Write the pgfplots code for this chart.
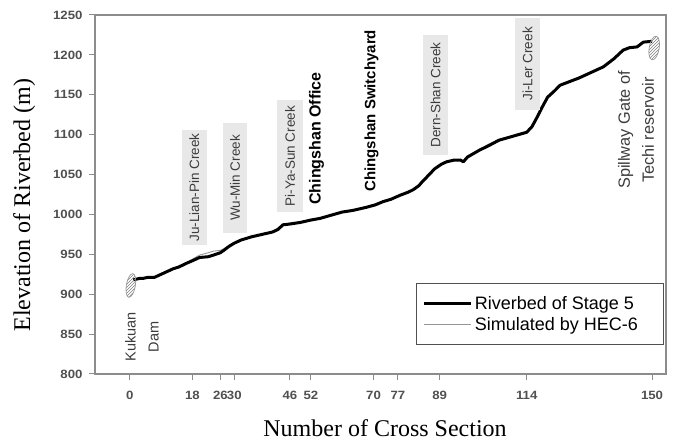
\documentclass[border=0pt]{standalone}
\usepackage{pgfplots}
\pgfplotsset{compat=1.18}
\usepackage{fontspec}
\setmainfont{Liberation Sans}
\newfontfamily\serifl{Liberation Serif}
\newfontfamily\ticksf[FakeStretch=1.1]{Liberation Sans}
\usetikzlibrary{patterns}
\definecolor{axgray}{RGB}{140,140,140}
\definecolor{tickgray}{RGB}{80,80,80}
\definecolor{boxgray}{RGB}{232,232,232}
\definecolor{txtgray}{RGB}{60,60,60}
\definecolor{simgray}{RGB}{150,150,150}

\pgfplotstableread{
n v
1 918
3 920
4 920
5 921
7 921
8 923
9.5 926
11 929
12.5 932
14 934
16.4 939
18 942
20 946
22.5 947
24 949
26 952
27 955
28.5 960
30 964
32 968
33.5 970
35 972
37 974
39 976
41 978
42.5 981
44 987
46 988
49 990
52 993
54.6 995
57 998
61 1003
64 1005
68 1009
70.5 1012
72.7 1016
75 1019
77.6 1024
80 1028
81.4 1031
83 1036
84 1041
86 1050
87.5 1057
89.5 1063
91 1066
93 1068
95 1068
95.8 1066
97 1072
99 1077
100.6 1081
103 1086
106 1093
110 1098
114 1103
115.5 1110
117 1122
118.5 1135
120 1147
122 1155
123.6 1162
126 1166
129 1171
132 1177
136 1185
139 1195
141.7 1206
143.5 1209
145.7 1210
147.5 1216
150 1217
}\riverbed

\pgfplotstableread{
n v
1 918
3 920
5 921
7 922
8 923
9.5 926
11 929
12.5 932
14 935
16.4 940
18 944
20 949
22.5 952
24 954
26 955
27 957
28.5 961
30 964
32 968
33.5 970
35 972
37 974
39 976
41 979
42.5 983
44 988
46 989
49 991
52 992
54.6 995
57 998
61 1003
64 1005
68 1010
70.5 1013
72.7 1016
75 1019
77.6 1024
80 1028
81.4 1031
83 1037
84 1042
86 1051
87.5 1057
89.5 1063
91 1066
93 1068
95 1069
95.8 1067
97 1073
99 1078
100.6 1082
103 1088
106 1094
110 1099
114 1104
115.5 1111
117 1122
118.5 1135
120 1147
122 1156
123.6 1162
126 1167
129 1172
132 1177
136 1186
139 1196
141.7 1206
143.5 1209
145.7 1211
147.5 1216
150 1217
}\simulated

\begin{document}
\begin{tikzpicture}
\begin{axis}[
  name=ax,
  scale only axis,
  width=571pt, height=359pt,
  xmin=-10, xmax=154,
  ymin=800, ymax=1250,
  axis line style={axgray, line width=1.1pt},
  every tick/.style={axgray, line width=1pt},
  tick align=outside,
  xtick pos=bottom, ytick pos=left,
  major tick length=6pt,
  xtick={0,18,26,30,46,52,70,77,89,114,150},
  ytick={800,850,...,1250},
  /pgf/number format/assume math mode=true,
  /pgf/number format/1000 sep={},
  tick label style={font=\ticksf\bfseries\fontsize{12}{14}\selectfont, text=tickgray},
  xticklabel style={yshift=-8pt},
  yticklabel style={xshift=-3pt},
  xlabel={Number of Cross Section},
  ylabel={Elevation of Riverbed (m)},
  every axis x label/.style={at={(axis description cs:0.508,-0.152)}, anchor=center, font=\serifl\fontsize{24}{27}\selectfont},
  every axis y label/.style={at={(axis description cs:-0.124,0.47)}, anchor=center, rotate=90, font=\serifl\fontsize{24}{27}\selectfont},
  reverse legend,
  legend style={
    at={(axis description cs:0.997,0.081)}, anchor=south east,
    draw=tickgray, line width=0.8pt,
    font=\fontsize{18}{20}\selectfont,
    inner xsep=6pt, inner ysep=11pt,
    row sep=2pt,
    cells={anchor=west},
  },
  legend image code/.code={\draw[#1] (0pt,0pt) -- (47pt,0pt);},
]
\addplot[simgray, line width=0.9pt] table[x=n, y=v] {\simulated};
\addlegendentry{Simulated by HEC-6}
\addplot[black, line width=3pt, line join=round] table[x=n, y=v] {\riverbed};
\addlegendentry{Riverbed of Stage 5\hspace*{22pt}}

\draw[simgray, line width=0.7pt, pattern=north east lines, pattern color=gray, rotate around={-10:(axis cs:0.3,911)}] (axis cs:0.3,911) ellipse [x radius=4.5pt, y radius=12pt];
\draw[simgray, line width=0.7pt, pattern=north east lines, pattern color=gray, rotate around={-10:(axis cs:150.6,1208.6)}] (axis cs:150.6,1208.6) ellipse [x radius=5pt, y radius=12pt];

\tikzset{creek/.style={rotate=90, fill=boxgray, text=txtgray, font=\fontsize{13.5}{15}\selectfont, inner sep=0pt, anchor=center}}
\node[creek, minimum width=115pt, minimum height=25pt] at (axis cs:18.5,1034) {Ju-Lian-Pin Creek};
\node[creek, minimum width=110pt, minimum height=24pt] at (axis cs:30.2,1045.7) {Wu-Min Creek};
\node[creek, minimum width=112pt, minimum height=26pt] at (axis cs:46,1073) {Pi-Ya-Sun Creek};
\node[creek, minimum width=120pt, minimum height=25pt] at (axis cs:87.8,1149.7) {Dern-Shan Creek};
\node[creek, minimum width=92pt, minimum height=25pt] at (axis cs:114.2,1188.6) {Ji-Ler Creek};

\node[rotate=90, font=\bfseries\fontsize{16}{18}\selectfont, anchor=center, inner sep=0pt] at (axis cs:53.6,1095.2) {Chingshan Office};
\node[rotate=90, font=\bfseries\fontsize{15}{17}\selectfont, anchor=center, inner sep=0pt] at (axis cs:69.4,1130) {Chingshan Switchyard};

\node[rotate=90, align=center, text=txtgray, font=\fontsize{14.5}{23}\selectfont, anchor=center, inner sep=0pt] at (axis cs:3.45,846.4) {Kukuan\\Dam};
\node[rotate=90, align=center, text=txtgray, font=\fontsize{16.3}{24}\selectfont, anchor=center, inner sep=0pt] at (axis cs:145.4,1105.9) {Spillway Gate of\\Techi reservoir};

\coordinate (sw) at (rel axis cs:0,0);
\coordinate (ne) at (rel axis cs:1,1);
\end{axis}
\pgfresetboundingbox
\path[use as bounding box] ([xshift=-95pt,yshift=-67pt]sw) rectangle ([xshift=8pt,yshift=15pt]ne);
\end{tikzpicture}
\end{document}
